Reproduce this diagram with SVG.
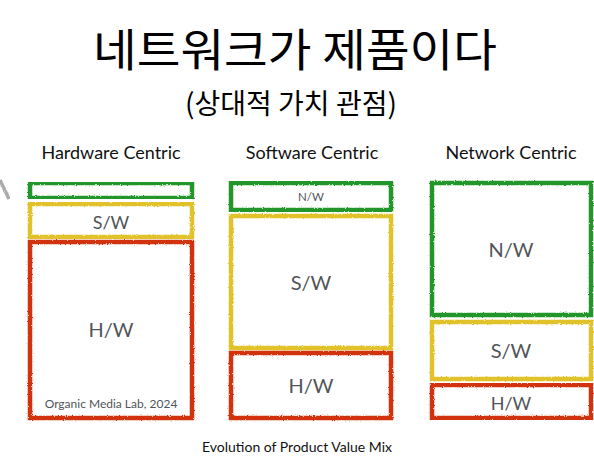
<svg xmlns="http://www.w3.org/2000/svg" width="594" height="476" viewBox="0 0 594 476">
  <defs>
    <filter id="crayon" x="-5%" y="-5%" width="110%" height="110%">
      <feTurbulence type="fractalNoise" baseFrequency="0.9" numOctaves="2" seed="3" result="n"/>
      <feDisplacementMap in="SourceGraphic" in2="n" scale="2.5" xChannelSelector="R" yChannelSelector="G"/>
    </filter>
  </defs>
  <style>
    .box { fill: none; stroke-width: 4.5; filter: url(#crayon); }
    .g { stroke: #23962b; }
    .y { stroke: #e2c22a; }
    .r { stroke: #d2300f; }
    .lbl { font-family: Lato, "Liberation Sans", sans-serif; fill: #4f5559; text-anchor: middle; }
    .hdr { font-family: Lato, "Liberation Sans", sans-serif; fill: #111; text-anchor: middle; font-size: 18px; }
    .ko { font-family: "Noto Sans CJK KR", sans-serif; fill: #000; text-anchor: middle; }
  </style>
  <rect width="594" height="476" fill="#fff"/>

  <text class="ko" x="295" y="67" font-size="45" textLength="404" lengthAdjust="spacingAndGlyphs">네트워크가 제품이다</text>
  <text class="ko" x="291" y="114" font-size="28">(상대적 가치 관점)</text>

  <text class="hdr" x="111" y="159">Hardware Centric</text>
  <text class="hdr" x="312" y="159">Software Centric</text>
  <text class="hdr" x="511" y="159">Network Centric</text>

  <g id="connectors">
    <line x1="0" y1="426" x2="594" y2="426" stroke="#ababab" stroke-width="3.5" filter="url(#crayon)"/>
    <line x1="0" y1="180" x2="9" y2="199" stroke="#ababab" stroke-width="3.5" filter="url(#crayon)"/>
  </g>

  <g id="hw">
    <rect class="box g" x="30" y="183" width="162" height="15"/>
    <rect class="box y" x="30" y="204" width="162" height="33"/>
    <text class="lbl" x="111" y="229" font-size="18">S/W</text>
    <rect class="box r" x="30" y="242" width="162" height="176"/>
    <text class="lbl" x="111" y="337" font-size="20">H/W</text>
    <text class="lbl" x="111" y="408" font-size="12">Organic Media Lab, 2024</text>
  </g>

  <g id="sw">
    <rect class="box g" x="231" y="183" width="160" height="27"/>
    <text class="lbl" x="311" y="201" font-size="11.5">N/W</text>
    <rect class="box y" x="231" y="216" width="160" height="132"/>
    <text class="lbl" x="311" y="290" font-size="20">S/W</text>
    <rect class="box r" x="231" y="353" width="160" height="65"/>
    <text class="lbl" x="311" y="393" font-size="20">H/W</text>
  </g>

  <g id="nw">
    <rect class="box g" x="432" y="183" width="159" height="132"/>
    <text class="lbl" x="511" y="257" font-size="20">N/W</text>
    <rect class="box y" x="432" y="322" width="159" height="57"/>
    <text class="lbl" x="511" y="358" font-size="20">S/W</text>
    <rect class="box r" x="432" y="385" width="159" height="33"/>
    <text class="lbl" x="511" y="410" font-size="18">H/W</text>
  </g>

  <text x="297" y="452" font-family="Lato, 'Liberation Sans', sans-serif" font-size="14" fill="#111" text-anchor="middle">Evolution of Product Value Mix</text>
</svg>
